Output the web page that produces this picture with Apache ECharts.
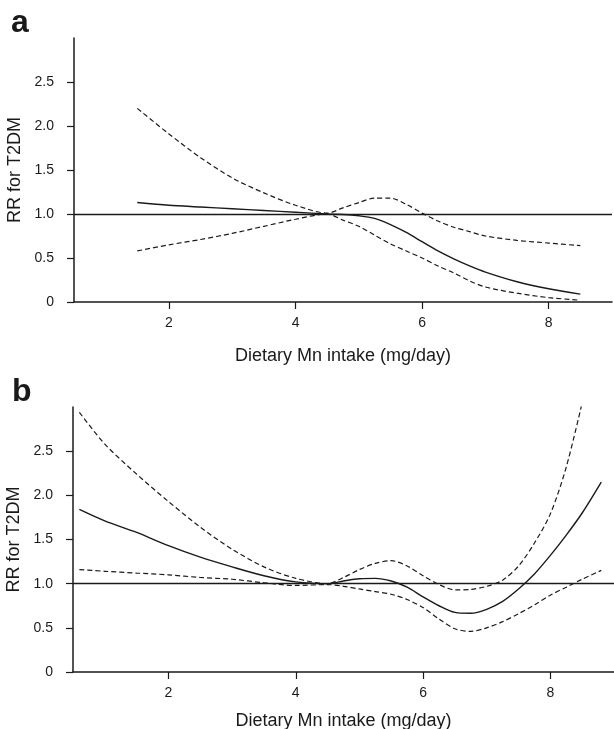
<!DOCTYPE html>
<html>
<head>
<meta charset="utf-8">
<script src="https://cdn.jsdelivr.net/npm/echarts@6/dist/echarts.min.js"></script>
<style>html,body{margin:0;padding:0;background:#fff}#c{width:614px;height:729px}</style>
</head>
<body>
<div id="c"></div>
<script>
// Panel a data
const aX     = [1.5, 2.0, 2.5, 3.0, 3.5, 4.0, 4.5, 4.75, 5.0, 5.25, 5.5, 5.75, 6.0, 6.25, 6.5, 6.75, 7.0, 7.5, 8.0, 8.5];
const aFit   = [1.13, 1.10, 1.08, 1.06, 1.04, 1.02, 1.00, 0.995, 0.98, 0.95, 0.88, 0.79, 0.685, 0.58, 0.49, 0.41, 0.34, 0.23, 0.15, 0.09];
const aUpper = [2.20, 1.91, 1.64, 1.41, 1.24, 1.10, 1.01, 1.07, 1.13, 1.18, 1.18, 1.11, 1.01, 0.92, 0.85, 0.80, 0.75, 0.70, 0.67, 0.64];
const aLower = [0.58, 0.65, 0.71, 0.78, 0.86, 0.94, 1.00, 0.93, 0.86, 0.76, 0.66, 0.58, 0.50, 0.41, 0.33, 0.24, 0.17, 0.10, 0.05, 0.02];
// Panel b data
const bX     = [0.6, 1.0, 1.5, 2.0, 2.5, 3.0, 3.5, 4.0, 4.5, 4.75, 5.0, 5.25, 5.5, 5.75, 6.0, 6.25, 6.5, 6.75, 7.0, 7.25, 7.5, 7.75, 8.0, 8.25, 8.5, 8.8];
const bFit   = [1.84, 1.71, 1.58, 1.43, 1.30, 1.19, 1.09, 1.02, 1.00, 1.03, 1.055, 1.06, 1.03, 0.96, 0.85, 0.75, 0.675, 0.665, 0.71, 0.80, 0.94, 1.11, 1.32, 1.55, 1.80, 2.15];
const bUpper = [2.94, 2.58, 2.24, 1.93, 1.64, 1.39, 1.19, 1.06, 1.00, 1.07, 1.16, 1.23, 1.26, 1.20, 1.09, 0.99, 0.93, 0.935, 0.97, 1.04, 1.20, 1.46, 1.79, 2.32, 3.05, null];
const bLower = [1.16, 1.14, 1.12, 1.10, 1.07, 1.05, 1.01, 0.98, 0.99, 0.97, 0.94, 0.91, 0.88, 0.82, 0.73, 0.60, 0.49, 0.46, 0.50, 0.57, 0.66, 0.76, 0.87, 0.96, 1.05, 1.15];
// Axes
const xTicks = [2, 4, 6, 8];
const yTicks = [0, 0.5, 1.0, 1.5, 2.0, 2.5];
const refValue = 1.0;
const xTitle = 'Dietary Mn intake (mg/day)';
const yTitle = 'RR for T2DM';
const panelLabels = ['a', 'b'];

const FONT = '"Liberation Sans", Arial, Helvetica, sans-serif';
const INK = '#1a1a1a';

function pairs(xs, ys) { return xs.map((x, i) => [x, ys[i]]); }

function xAxisCfg(gi, gap) {
  return {
    type: 'value', gridIndex: gi, min: 0.5, max: 9.0,
    name: xTitle, nameLocation: 'middle', nameGap: gap,
    nameTextStyle: { fontFamily: FONT, fontSize: 18, color: INK },
    axisLine: { show: true, onZero: false, lineStyle: { color: INK, width: 1.5 } },
    axisTick: { show: true, length: 7, customValues: xTicks, lineStyle: { color: INK, width: 1.2 } },
    axisLabel: { customValues: xTicks, fontFamily: FONT, fontSize: 14, color: INK, margin: 14 },
    splitLine: { show: false }
  };
}
function yAxisCfg(gi) {
  return {
    type: 'value', gridIndex: gi, min: 0, max: 3.0,
    name: yTitle, nameLocation: 'middle', nameGap: 45, nameRotate: 90,
    nameTextStyle: { fontFamily: FONT, fontSize: 18, color: INK },
    axisLine: { show: true, onZero: false, lineStyle: { color: INK, width: 1.5 } },
    axisTick: { show: true, length: 7, customValues: yTicks, lineStyle: { color: INK, width: 1.2 } },
    axisLabel: { customValues: yTicks, fontFamily: FONT, fontSize: 14, color: INK, margin: 20,
      formatter: v => v === 0 ? '0' : v.toFixed(1) },
    splitLine: { show: false }
  };
}
function lineSeries(gi, xs, ys, dashed, withRef) {
  const s = {
    type: 'line', xAxisIndex: gi, yAxisIndex: gi, data: pairs(xs, ys),
    showSymbol: false, symbol: 'none', smooth: 0.3, clip: true, silent: true,
    lineStyle: { color: INK, width: dashed ? 1.2 : 1.4, type: dashed ? [5, 3] : 'solid' },
    animation: false
  };
  if (withRef) {
    s.markLine = {
      silent: true, symbol: ['none', 'none'], label: { show: false },
      lineStyle: { color: INK, width: 1.3, type: 'solid' },
      data: [{ yAxis: refValue }], animation: false
    };
  }
  return s;
}

const chart = echarts.init(document.getElementById('c'), null, { renderer: 'canvas' });
chart.setOption({
  backgroundColor: '#fff',
  animation: false,
  grid: [
    { left: 74, top: 38, right: 2, height: 264, containLabel: false, outerBoundsMode: 'none' },
    { left: 73, top: 407, right: 0, height: 265, containLabel: false, outerBoundsMode: 'none' }
  ],
  xAxis: [xAxisCfg(0, 45), xAxisCfg(1, 40)],
  yAxis: [yAxisCfg(0), yAxisCfg(1)],
  graphic: [
    { type: 'text', left: 11, top: 7, style: { text: panelLabels[0], font: 'bold 32px ' + FONT, fill: INK } },
    { type: 'text', left: 12, top: 376, style: { text: panelLabels[1], font: 'bold 32px ' + FONT, fill: INK } }
  ],
  series: [
    lineSeries(0, aX, aFit, false, true),
    lineSeries(0, aX, aUpper, true, false),
    lineSeries(0, aX, aLower, true, false),
    lineSeries(1, bX, bFit, false, true),
    lineSeries(1, bX, bUpper, true, false),
    lineSeries(1, bX, bLower, true, false)
  ]
});
</script>
</body>
</html>
